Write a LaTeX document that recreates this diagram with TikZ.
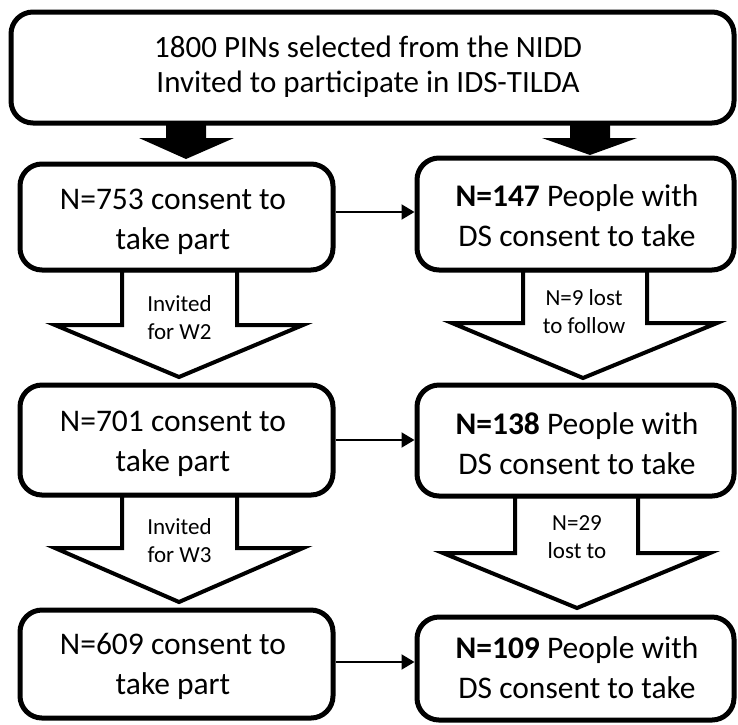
\documentclass[tikz,border=0pt]{standalone}
\usepackage{fontspec}
\setmainfont{Carlito}
\usetikzlibrary{arrows.meta}
\begin{document}
\begin{tikzpicture}[x=1pt,y=-1pt,
  box/.style={draw=black,line width=5pt,rounded corners=22pt,fill=white},
  hollow/.style={draw=black,line width=4pt,fill=white,line join=miter},
  solidarrow/.style={fill=black},
  link/.style={draw=black,line width=2pt,-{Triangle[length=13pt,width=15pt]}},
  bigtext/.style={font=\fontsize{31.5}{40}\selectfont,align=center},
  toptext/.style={font=\fontsize{31}{35}\selectfont,align=center},
  smalltext/.style={font=\fontsize{23}{28}\selectfont,align=center}]
\useasboundingbox (0,0) rectangle (738,724);

% solid arrows from the top box
\fill[solidarrow] (166,120) -- (206,120) -- (206,138) -- (234,138) -- (186,159) -- (139,138) -- (166,138) -- cycle;
\fill[solidarrow] (570,120) -- (610,120) -- (610,138) -- (637,138) -- (590,155) -- (542,138) -- (570,138) -- cycle;

% hollow block arrows between waves
\draw[hollow] (122,270) -- (237,270) -- (237,325) -- (303,325) -- (179,377) -- (55,325) -- (122,325) -- cycle;
\draw[hollow] (523,270) -- (647,270) -- (647,323) -- (717,323) -- (583,378) -- (452,323) -- (523,323) -- cycle;
\draw[hollow] (122,495) -- (237,495) -- (237,548) -- (303,548) -- (179,602) -- (55,548) -- (122,548) -- cycle;
\draw[hollow] (515,496) -- (638,496) -- (638,553) -- (710,553) -- (577,608) -- (443,553) -- (515,553) -- cycle;

% boxes
\draw[box] (11,12) rectangle (734,123);
\draw[box] (20,164) rectangle (333,270);
\draw[box] (417,158) rectangle (734,270);
\draw[box] (20,385) rectangle (333,495);
\draw[box] (417,385) rectangle (734,496);
\draw[box] (20,610) rectangle (333,718);
\draw[box] (417,617) rectangle (734,720);

% texts
\node[toptext] (top) at (368,67) {1800 PINs selected from the NIDD\\Invited to participate in IDS-TILDA};
\node[bigtext] (l1) at (173,222) {N=753 consent to\\take part};
\node[bigtext] (r1) at (577,216) {\textbf{N=147} People with\\DS consent to take};
\node[bigtext] (l2) at (173,444) {N=701 consent to\\take part};
\node[bigtext] (r2) at (577,444) {\textbf{N=138} People with\\DS consent to take};
\node[bigtext] (l3) at (173,666) {N=609 consent to\\take part};
\node[bigtext] (r3) at (577,668) {\textbf{N=109} People with\\DS consent to take};

\node[smalltext] (a1) at (179.5,318) {Invited\\for W2};
\node[smalltext] (a2) at (584,312) {N=9 lost\\to follow};
\node[smalltext] (a3) at (179.5,541) {Invited\\for W3};
\node[smalltext] (a4) at (577,537) {N=29\\lost to};

% links between the two columns
\coordinate (l1e) at (335.5,212);
\coordinate (r1w) at (414.5,212);
\coordinate (l2e) at (335.5,440);
\coordinate (r2w) at (414.5,440);
\coordinate (l3e) at (335.5,662);
\coordinate (r3w) at (414.5,662);
\draw[link] (l1e) -- (r1w);
\draw[link] (l2e) -- (r2w);
\draw[link] (l3e) -- (r3w);
\end{tikzpicture}
\end{document}
